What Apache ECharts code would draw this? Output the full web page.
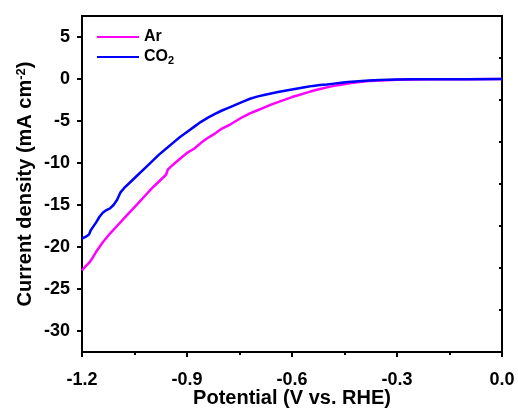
<!DOCTYPE html>
<html>
<head>
<meta charset="utf-8">
<script src="https://cdn.jsdelivr.net/npm/echarts@6/dist/echarts.min.js"></script>
<style>
  html, body { margin: 0; padding: 0; background: #fff; }
  #chart { width: 518px; height: 411px; }
</style>
</head>
<body>
<div id="chart"></div>
<script>
// LSV polarization curves recorded in Ar- and CO2-saturated electrolyte
const potentialAr = [-1.200, -1.190, -1.180, -1.170, -1.160, -1.150, -1.140, -1.130, -1.120, -1.100,
  -1.080, -1.060, -1.040, -1.020, -1.000, -0.980, -0.960, -0.955, -0.940, -0.920, -0.900, -0.880,
  -0.860, -0.840, -0.820, -0.800, -0.780, -0.760, -0.740, -0.720, -0.700, -0.680, -0.660, -0.640,
  -0.620, -0.600, -0.580, -0.560, -0.540, -0.520, -0.500, -0.480, -0.460, -0.440, -0.420, -0.400,
  -0.380, -0.350, -0.300, -0.250, -0.200, -0.100, 0.000];
const currentAr = [-22.8, -22.3, -21.9, -21.3, -20.6, -20.0, -19.4, -18.9, -18.4, -17.5,
  -16.6, -15.7, -14.8, -13.9, -13.0, -12.2, -11.4, -10.8, -10.2, -9.5, -8.8, -8.3,
  -7.6, -7.0, -6.5, -5.9, -5.5, -5.0, -4.5, -4.1, -3.75, -3.4, -3.05, -2.75,
  -2.45, -2.15, -1.9, -1.65, -1.4, -1.2, -1.0, -0.82, -0.68, -0.55, -0.43, -0.33,
  -0.25, -0.17, -0.08, -0.05, -0.03, -0.02, -0.01];

const potentialCO2 = [-1.200, -1.190, -1.180, -1.175, -1.165, -1.160, -1.150, -1.140, -1.130, -1.120,
  -1.110, -1.100, -1.090, -1.080, -1.060, -1.040, -1.020, -1.000, -0.980, -0.960, -0.940, -0.920,
  -0.900, -0.880, -0.860, -0.840, -0.820, -0.800, -0.780, -0.760, -0.740, -0.720, -0.700, -0.680,
  -0.660, -0.640, -0.620, -0.600, -0.580, -0.560, -0.540, -0.520, -0.500, -0.480, -0.460, -0.440,
  -0.420, -0.400, -0.380, -0.350, -0.300, -0.250, -0.200, -0.100, 0.000];
const currentCO2 = [-19.0, -18.8, -18.5, -18.0, -17.4, -17.1, -16.4, -15.9, -15.6, -15.4,
  -15.0, -14.4, -13.5, -13.0, -12.2, -11.4, -10.6, -9.8, -9.0, -8.3, -7.6, -6.9,
  -6.3, -5.7, -5.1, -4.6, -4.15, -3.75, -3.4, -3.05, -2.7, -2.35, -2.1, -1.9,
  -1.72, -1.55, -1.4, -1.25, -1.1, -0.95, -0.82, -0.72, -0.65, -0.55, -0.45, -0.37,
  -0.3, -0.24, -0.19, -0.13, -0.07, -0.04, -0.03, -0.02, -0.01];

// axis ranges and tick positions
const xRange = { min: -1.2, max: 0.0, step: 0.3 };
const yRange = { min: -32.5, max: 7.5 };
const yMajorTicks = [-30, -25, -20, -15, -10, -5, 0, 5];
const yMinorTicks = [-27.5, -22.5, -17.5, -12.5, -7.5, -2.5, 2.5];

const FONT = '"Liberation Sans", Arial, sans-serif';

function pairs(xs, ys) {
  return xs.map((x, i) => [x, ys[i]]);
}

const chart = echarts.init(document.getElementById('chart'), null, { renderer: 'canvas' });

const tickLine = { color: '#000', width: 2 };

chart.setOption({
  animation: false,
  backgroundColor: '#ffffff',
  textStyle: { fontFamily: FONT },
  grid: {
    left: 82, right: 16, top: 16, bottom: 59,
    outerBoundsMode: 'none', containLabel: false,
    show: true, borderColor: '#000', borderWidth: 2, backgroundColor: 'transparent'
  },
  legend: {
    orient: 'vertical',
    left: 92, top: 24,
    icon: 'rect',
    itemWidth: 42, itemHeight: 2, itemGap: 4,
    textStyle: {
      fontFamily: FONT, fontSize: 16, fontWeight: 'bold', color: '#000',
      rich: {
        b: { fontFamily: FONT, fontSize: 16, fontWeight: 'bold', color: '#000' },
        sub: { fontFamily: FONT, fontSize: 11, fontWeight: 'bold', color: '#000', verticalAlign: 'bottom', padding: [8, 0, 0, 0] }
      }
    },
    formatter: function (name) {
      return name === 'CO2' ? '{b|CO}{sub|2}' : '{b|' + name + '}';
    },
    data: ['Ar', 'CO2']
  },
  xAxis: {
    type: 'value',
    min: xRange.min, max: xRange.max, interval: xRange.step,
    name: 'Potential (V vs. RHE)',
    nameLocation: 'middle', nameGap: 36, nameMoveOverlap: false,
    nameTextStyle: { fontFamily: FONT, fontSize: 20, fontWeight: 'bold', color: '#000' },
    axisLine: { onZero: false, lineStyle: { color: '#000', width: 2 } },
    axisTick: { show: true, inside: false, length: 5, lineStyle: tickLine },
    minorTick: { show: true, splitNumber: 2, length: 3, lineStyle: tickLine },
    splitLine: { show: false },
    axisLabel: {
      margin: 19, fontFamily: FONT, fontSize: 18, fontWeight: 'bold', color: '#000',
      formatter: v => v.toFixed(1)
    }
  },
  yAxis: [
    {
      type: 'value',
      min: yRange.min, max: yRange.max, interval: 2.5,
      name: '{a|Current density (mA cm}{s|-2}{a|)}',
      nameLocation: 'middle', nameGap: 46, nameRotate: 90, nameMoveOverlap: false,
      nameTextStyle: {
        fontFamily: FONT, fontSize: 20, fontWeight: 'bold', color: '#000',
        rich: {
          a: { fontFamily: FONT, fontSize: 20, fontWeight: 'bold', color: '#000' },
          s: { fontFamily: FONT, fontSize: 13, fontWeight: 'bold', color: '#000', verticalAlign: 'top', padding: [0, 0, 8, 0] }
        }
      },
      axisLine: { onZero: false, lineStyle: { color: '#000', width: 2 } },
      axisTick: { show: true, inside: false, length: 5, lineStyle: tickLine, customValues: yMajorTicks },
      splitLine: { show: false },
      axisLabel: {
        margin: 12, fontFamily: FONT, fontSize: 18, fontWeight: 'bold', color: '#000',
        customValues: yMajorTicks
      }
    },
    {
      // short ticks halfway between the labelled ones
      type: 'value', position: 'left',
      min: yRange.min, max: yRange.max, interval: 2.5,
      axisLine: { show: false },
      axisTick: { show: true, inside: false, length: 3, lineStyle: tickLine, customValues: yMinorTicks },
      axisLabel: { show: false },
      splitLine: { show: false }
    }
  ],
  series: [
    {
      name: 'Ar', type: 'line', symbol: 'none', smooth: false,
      lineStyle: { color: '#ff00ff', width: 2.5 }, itemStyle: { color: '#ff00ff' },
      data: pairs(potentialAr, currentAr)
    },
    {
      name: 'CO2', type: 'line', symbol: 'none', smooth: false,
      lineStyle: { color: '#0000ff', width: 2.5 }, itemStyle: { color: '#0000ff' },
      data: pairs(potentialCO2, currentCO2)
    }
  ]
});
</script>
</body>
</html>
